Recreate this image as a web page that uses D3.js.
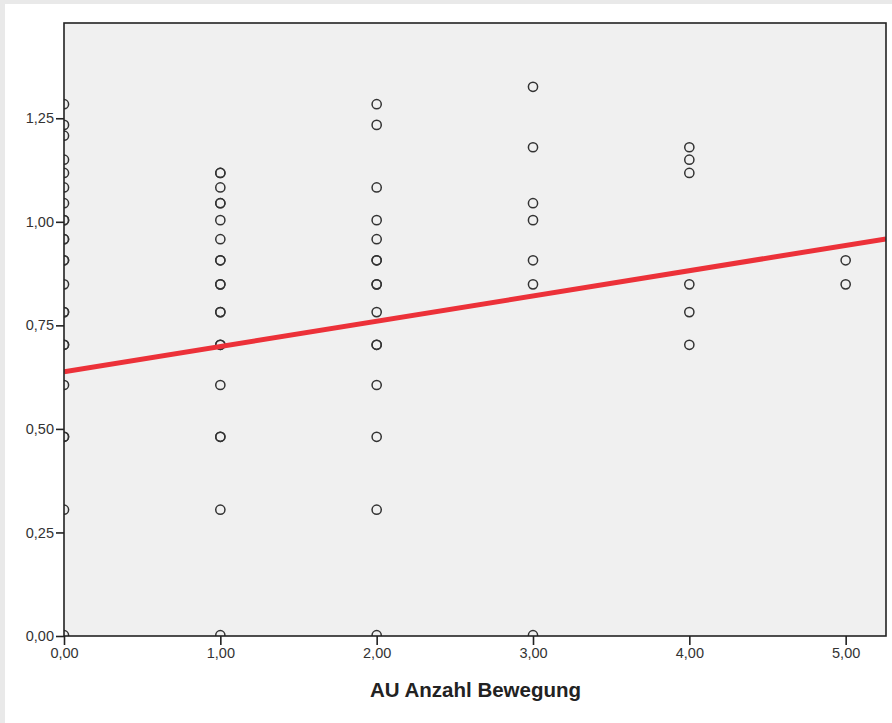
<!DOCTYPE html>
<html lang="de">
  <head>
    <meta charset="UTF-8" />
    <title>AU Anzahl Bewegung – Streudiagramm</title>
    <style>
      body {
        margin: 0;
        background-color: #e9e9e9;
        font-family: Arial, "Liberation Sans", sans-serif;
      }
      #chart {
        display: block;
      }
    </style>
  </head>
  <body>
    <svg id="chart" width="892" height="723"></svg>
    <script src="https://d3js.org/d3.v7.min.js"></script>
    <script>
      // values (repeated entries = overlapping points)
      const xValues0 = [0, 0, 0, 0, 0, 0, 0, 0, 0, 0, 0, 0, 0, 0, 0, 0, 0, 0, 0, 0, 0, 0, 0];
      const yValues0 = [1.284, 1.234, 1.208, 1.15, 1.118, 1.083, 1.045, 1.004, 1.004, 0.958, 0.958, 0.907, 0.907, 0.849, 0.782, 0.782, 0.703, 0.703, 0.606, 0.481, 0.481, 0.305, 0.002];

      const xValues1 = [1, 1, 1, 1, 1, 1, 1, 1, 1, 1, 1, 1, 1, 1, 1, 1, 1, 1, 1, 1];
      const yValues1 = [1.118, 1.118, 1.083, 1.045, 1.045, 1.004, 0.958, 0.907, 0.907, 0.849, 0.849, 0.782, 0.782, 0.703, 0.703, 0.606, 0.481, 0.481, 0.305, 0.002];

      const xValues2 = [2, 2, 2, 2, 2, 2, 2, 2, 2, 2, 2, 2, 2, 2, 2, 2];
      const yValues2 = [1.284, 1.234, 1.083, 1.004, 0.958, 0.907, 0.907, 0.849, 0.849, 0.782, 0.703, 0.703, 0.606, 0.481, 0.305, 0.002];

      const xValues3 = [3, 3, 3, 3, 3, 3, 3];
      const yValues3 = [1.326, 1.18, 1.045, 1.004, 0.907, 0.849, 0.002];

      const xValues4 = [4, 4, 4, 4, 4, 4];
      const yValues4 = [1.18, 1.15, 1.118, 0.849, 0.782, 0.703];

      const xValues5 = [5, 5];
      const yValues5 = [0.907, 0.849];

      // fit line (linear)
      const fitIntercept = 0.638;
      const fitSlope = 0.061;

      const xTicks = [0, 1, 2, 3, 4, 5];
      const yTicks = [0, 0.25, 0.5, 0.75, 1.0, 1.25];
      const xTitle = "AU Anzahl Bewegung";

      const svg = d3.select("#chart");
      const margin = { top: 23, right: 6, bottom: 87, left: 64 };
      const width = 892 - margin.left - margin.right;
      const height = 723 - margin.top - margin.bottom;

      // white panel
      svg
        .append("rect")
        .attr("x", 5)
        .attr("y", 4)
        .attr("width", 887)
        .attr("height", 719)
        .attr("fill", "#ffffff");

      const g = svg
        .append("g")
        .attr("transform", `translate(${margin.left},${margin.top})`);

      const x = d3.scaleLinear().domain([0, 5.258]).range([0, width]);
      const y = d3.scaleLinear().domain([0, 1.48]).range([height, 0]);

      const fmt = (d) => d3.format(".2f")(d).replace(".", ",");

      g.append("rect")
        .attr("width", width)
        .attr("height", height)
        .attr("fill", "#f0f0f0");

      g.append("clipPath")
        .attr("id", "plotClip")
        .append("rect")
        .attr("width", width)
        .attr("height", height);

      const points = [];
      [
        [xValues0, yValues0],
        [xValues1, yValues1],
        [xValues2, yValues2],
        [xValues3, yValues3],
        [xValues4, yValues4],
        [xValues5, yValues5],
      ].forEach(([xs, ys]) => {
        xs.forEach((v, i) => points.push({ x: v, y: ys[i] }));
      });

      const plot = g.append("g").attr("clip-path", "url(#plotClip)");

      plot
        .selectAll("circle.pt")
        .data(points)
        .enter()
        .append("circle")
        .attr("class", "pt")
        .attr("cx", (d) => x(d.x))
        .attr("cy", (d) => y(d.y))
        .attr("r", 4.6)
        .style("fill", "none")
        .style("stroke", "#333")
        .style("stroke-width", "1.5px");

      const xEnd = x.domain()[1];
      plot
        .append("line")
        .attr("x1", x(0))
        .attr("y1", y(fitIntercept))
        .attr("x2", x(xEnd))
        .attr("y2", y(fitIntercept + fitSlope * xEnd))
        .style("stroke", "#ec3139")
        .style("stroke-width", "5px");

      // frame
      g.append("rect")
        .attr("width", width)
        .attr("height", height)
        .attr("fill", "none")
        .style("stroke", "#222")
        .style("stroke-width", "1.6px");

      const yAxis = g
        .append("g")
        .call(d3.axisLeft(y).tickValues(yTicks).tickFormat(fmt).tickSize(8).tickPadding(2));
      const xAxis = g
        .append("g")
        .attr("transform", `translate(0,${height})`)
        .call(d3.axisBottom(x).tickValues(xTicks).tickFormat(fmt).tickSize(9).tickPadding(3));

      [yAxis, xAxis].forEach((ax) => {
        ax.select(".domain").remove();
        ax.selectAll(".tick line").style("stroke", "#222").style("stroke-width", "1.6px");
        ax.selectAll(".tick text")
          .style("font-family", "Arial, 'Liberation Sans', sans-serif")
          .style("font-size", "14.5px")
          .style("fill", "#333");
      });

      svg
        .append("text")
        .attr("x", 475.5)
        .attr("y", 697)
        .attr("text-anchor", "middle")
        .style("font-family", "Arial, 'Liberation Sans', sans-serif")
        .style("font-weight", "bold")
        .style("font-size", "20.5px")
        .style("fill", "#222")
        .text(xTitle);
    </script>
  </body>
</html>
